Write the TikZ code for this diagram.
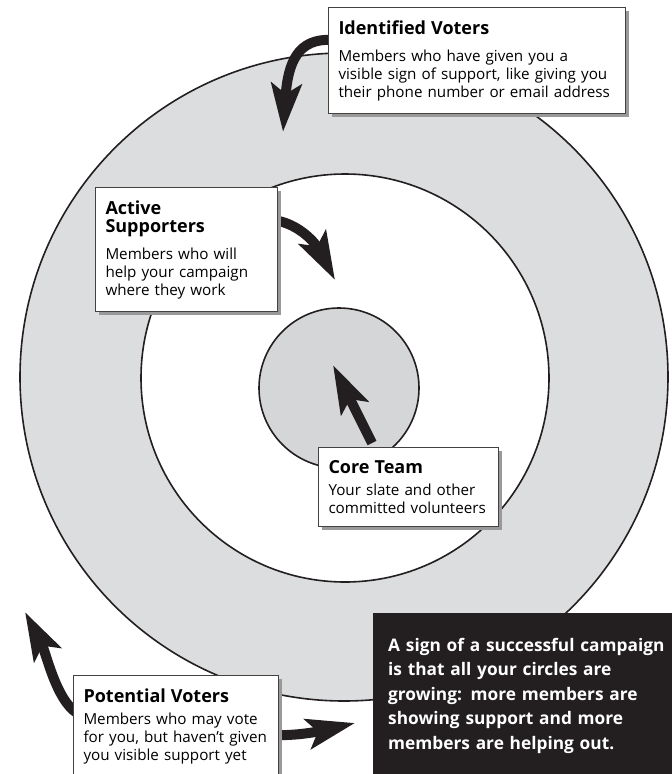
\documentclass[tikz,border=0pt]{standalone}
\usepackage{fontspec}
\setmainfont{Open Sans}
\usetikzlibrary{arrows.meta,shadows}
\definecolor{ringgray}{HTML}{DCDDDF}
\definecolor{coregray}{HTML}{D5D6D8}
\definecolor{inkblack}{HTML}{231F20}
\newcommand{\boxhead}{\fontsize{18}{20}\selectfont\bfseries}
\pgfdeclarelayer{back}
\pgfsetlayers{back,main}
\begin{document}
\begin{tikzpicture}[x=1pt,y=-1pt,
  ring/.style={draw=inkblack, line width=1.6pt},
  infobox/.style={draw=inkblack!85, line width=1pt, fill=white, anchor=north west,
    align=left, inner xsep=10pt, inner ysep=13pt,
    font=\fontsize{15.2}{18}\selectfont,
    drop shadow={shadow xshift=3pt, shadow yshift=-3pt, fill=black!40, opacity=1}},
  flow/.style={draw=inkblack, line width=10pt,
    -{Stealth[length=48pt,width=30pt,inset=10pt]}},
]
\useasboundingbox (0,0) rectangle (672,774);
\clip (0,0) rectangle (672,774);

% arrow tips
\coordinate (idtip) at (283,132);
\coordinate (actip) at (335,280);
\coordinate (coretip) at (333,365);
\coordinate (pvup) at (25,612);
\coordinate (pvright) at (355,723);

% label boxes
\node[infobox, text width=277pt] (identified) at (328,7)
  {{\boxhead Identified Voters}\\[9pt]
   Members who have given you a\\
   visible sign of support, like giving you\\
   their phone number or email address};

\node[infobox, text width=162pt] (active) at (95,187)
  {{\boxhead Active\\ Supporters}\\[9pt]
   Members who will\\
   help your campaign\\
   where they work\\[2pt]};

\node[infobox, text width=160pt] (core) at (318,447)
  {{\boxhead Core Team}\\[4pt]
   Your slate and other\\
   committed volunteers};

\node[infobox, text width=185pt] (potential) at (73,675)
  {{\boxhead Potential Voters}\\[4pt]
   Members who may vote\\
   for you, but haven't given\\
   you visible support yet\\[30pt]};

\node[fill=inkblack, anchor=north west, text=white, align=left,
      inner xsep=15pt, inner ysep=25pt, text width=284pt,
      font=\fontsize{17.3}{24.5}\selectfont\bfseries] (sign) at (373,613)
  {A sign of a successful campaign\\
   is that all your circles are\\
   growing: more members are\\
   showing support and more\\
   members are helping out.\\[20pt]};

\begin{pgfonlayer}{back}
% concentric circles
\draw[ring, fill=ringgray] (344,377) circle[radius=324pt];
\draw[ring, fill=white] (345,378) circle[radius=204pt];
\draw[ring, fill=coregray] (339,388) circle[radius=80pt];

% flow arrows, tails tucked under the boxes
\draw[flow] ([yshift=-33pt,xshift=4pt]identified.north west)
  .. controls (298,38) and (288,62) .. (idtip);
\draw[flow] ([yshift=-33pt,xshift=-4pt]active.north east)
  .. controls (300,224) and (316,244) .. (actip);
\draw[flow] ([xshift=54pt,yshift=4pt]core.north west) -- (coretip);
\draw[flow] ([yshift=-38pt,xshift=4pt]potential.north west)
  .. controls (56,700) and (46,652) .. (pvup);
\draw[flow] ([yshift=-60pt,xshift=-4pt]potential.north east)
  .. controls (300,736) and (325,730) .. (pvright);
\end{pgfonlayer}
\end{tikzpicture}
\end{document}
